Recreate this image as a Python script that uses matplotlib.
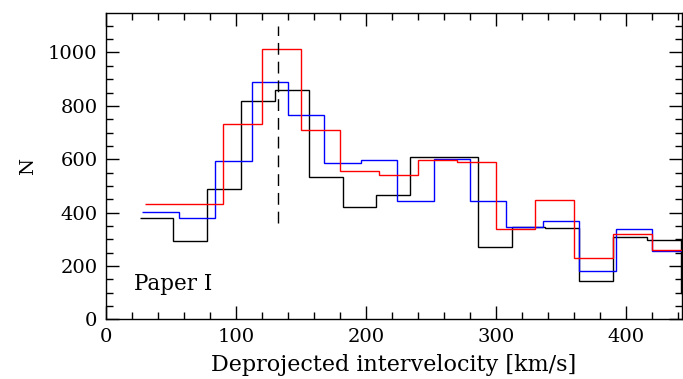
import numpy as np
import matplotlib
matplotlib.use('Agg')
import matplotlib.pyplot as plt
from matplotlib.ticker import MultipleLocator

plt.rcParams['font.family'] = 'DejaVu Serif'
plt.rcParams['font.size'] = 14

# step histograms of deprojected intervelocity, three samples
black_edges = np.arange(26, 469, 26)
black_n = [381, 293, 488, 817, 858, 535, 422, 466, 607, 610,
           270, 347, 342, 145, 309, 297, 97]

blue_edges = np.arange(28, 449, 28)
blue_n = [404, 381, 595, 889, 764, 587, 597, 445, 602, 445,
          345, 367, 181, 339, 255]

red_edges = np.arange(30, 451, 30)
red_n = [434, 434, 731, 1012, 709, 557, 540, 597, 591, 340,
         447, 230, 321, 259]

v_peak = 132
peak_span = (360, 1100)

fig = plt.figure(figsize=(6.83, 3.79), dpi=100)
ax = fig.add_axes([0.155, 0.1575, 0.8435, 0.8075])

ax.stairs(black_n, black_edges, baseline=None, color='k', lw=1.0)
ax.stairs(blue_n, blue_edges, baseline=None, color='#0000ff', lw=1.0)
ax.stairs(red_n, red_edges, baseline=None, color='#ff0000', lw=1.0)

ax.plot([v_peak, v_peak], peak_span, color='k', lw=1.0, ls=(0, (8.5, 5)))

ax.text(22, 108, 'Paper I', fontsize=15.5)

ax.set_xlim(0, 443)
ax.set_ylim(0, 1147)
ax.xaxis.set_major_locator(MultipleLocator(100))
ax.xaxis.set_minor_locator(MultipleLocator(20))
ax.yaxis.set_major_locator(MultipleLocator(200))
ax.yaxis.set_minor_locator(MultipleLocator(50))
ax.tick_params(which='both', direction='in', top=True, right=True, width=1.0)
ax.tick_params(which='major', length=9.5, pad=6)
ax.tick_params(which='minor', length=5)
for s in ax.spines.values():
    s.set_linewidth(1.0)

ax.set_xlabel('Deprojected intervelocity [km/s]', fontsize=16, labelpad=6)
ax.set_ylabel('N', labelpad=8)

fig.savefig('out.png', dpi=100)
